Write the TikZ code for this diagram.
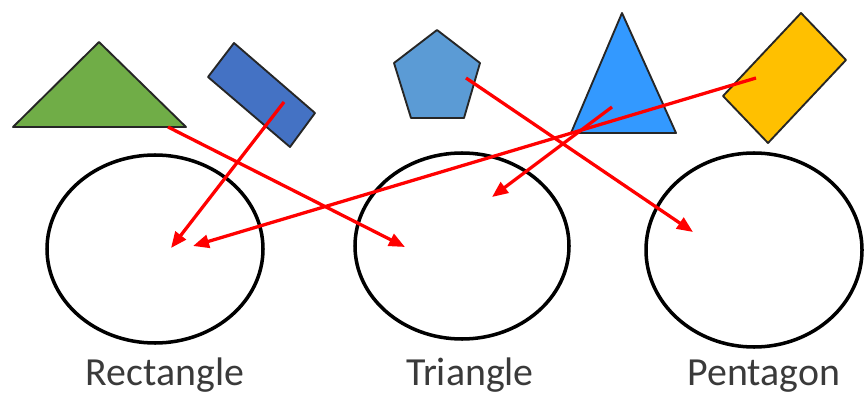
\documentclass[tikz,border=0pt]{standalone}
\usepackage{fontspec}
\setmainfont{Carlito}
\usetikzlibrary{arrows.meta}
\definecolor{leafgreen}{HTML}{70AD47}
\definecolor{royalblue}{HTML}{4472C4}
\definecolor{steelblue}{HTML}{5B9BD5}
\definecolor{skyblue}{HTML}{3399FF}
\definecolor{amber}{HTML}{FFC000}
\definecolor{labelgray}{HTML}{3A3A3A}
\begin{document}
\begin{tikzpicture}[x=0.3mm, y=-0.3mm, >={Triangle[length=4.8mm, width=3.9mm]},
		outline/.style={draw=black!85, line width=1.6pt, line join=round},
		bowl/.style={draw=black, line width=3pt},
		match/.style={->, red, line width=2.8pt},
		caption/.style={anchor=base, text=labelgray, font=\fontsize{34}{40}\selectfont}]
	\useasboundingbox (0,0) rectangle (864,395);
	% shapes to sort
	\draw[outline, fill=leafgreen] (13,127) -- (99,42) -- (186,127) -- cycle;
	\draw[outline, fill=royalblue] (234,43) -- (315,113) -- (290,147) -- (208,77) -- cycle;
	\draw[outline, fill=steelblue] (437,30) -- (480,63) -- (464,118) -- (411,118) -- (394,63) -- cycle;
	\draw[outline, fill=skyblue] (622,13) -- (676,133) -- (571,133) -- cycle;
	\draw[outline, fill=amber] (801,13) -- (846,60) -- (768,143) -- (723,96) -- cycle;
	\coordinate (G) at (168,127);
	\coordinate (R) at (284,102);
	\coordinate (P) at (466,78);
	\coordinate (T) at (612,107);
	\coordinate (Y) at (756,78);
	% sorting bowls
	\draw[bowl] (155,249) ellipse (108 and 94);
	\draw[bowl] (462,246) ellipse (107 and 93);
	\draw[bowl] (754,250) ellipse (108 and 97);
	\node[caption] (rect) at (165,385) {Rectangle};
	\node[caption] (tri) at (470,385) {Triangle};
	\node[caption] (pent) at (764,385) {Pentagon};
	\coordinate (rectA) at (171,248);
	\coordinate (rectB) at (193,246);
	\coordinate (triA) at (405,247);
	\coordinate (triB) at (492,197);
	\coordinate (pentA) at (693,232);
	% answers
	\draw[match] (G) -- (triA);
	\draw[match] (R) -- (rectA);
	\draw[match] (P) -- (pentA);
	\draw[match] (T) -- (triB);
	\draw[match] (Y) -- (rectB);
\end{tikzpicture}
\end{document}
